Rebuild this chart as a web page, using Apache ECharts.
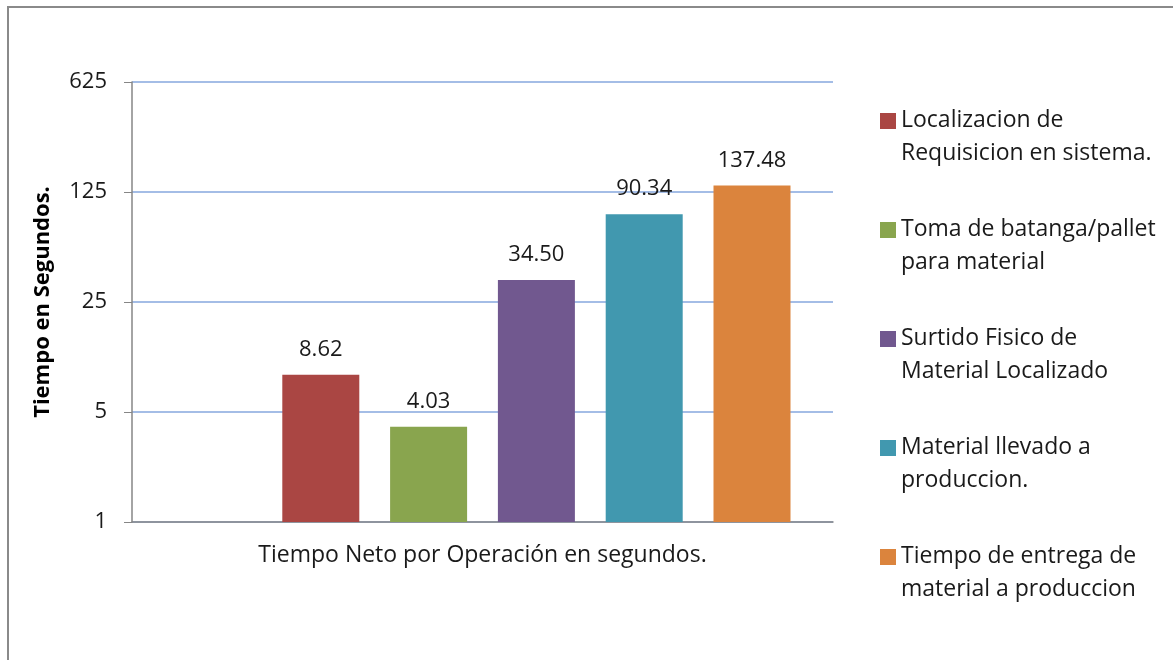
<!DOCTYPE html>
<html><head><meta charset="utf-8">
<script src="https://cdn.jsdelivr.net/npm/echarts@6/dist/echarts.min.js"></script>
<style>
html,body{margin:0;padding:0;background:#fff;}
#frame{position:absolute;left:7px;top:6px;width:1300px;height:800px;border-left:2px solid #8a8a8a;border-top:2px solid #8a8a8a;}
#c{position:absolute;left:0;top:0;width:1173px;height:660px;}
</style></head>
<body>
<div id="frame"></div>
<div id="c"></div>
<script>
const categories = ['Tiempo Neto por Operación en segundos.'];
const seriesNames = [
  'Localizacion de\nRequisicion en sistema.',
  'Toma de batanga/pallet\npara material',
  'Surtido Fisico de\nMaterial Localizado',
  'Material llevado a\nproduccion.',
  'Tiempo de entrega de\nmaterial a produccion'
];
const seriesValues = [8.62, 4.03, 34.50, 90.34, 137.48];
const seriesColors = ['#AA4643', '#89A54E', '#71588F', '#4198AF', '#DB843D'];
const yTicks = [1, 5, 25, 125, 625];

const FONT = '"Open Sans", sans-serif';
const chart = echarts.init(document.getElementById('c'));

const series = [{
  name: '__empty', type: 'bar', data: [null], barWidth: 77, barGap: '40%'
}];
seriesNames.forEach((n, i) => {
  series.push({
    name: n, type: 'bar', barWidth: 77, barGap: '40%',
    data: [seriesValues[i]],
    itemStyle: { color: seriesColors[i] },
    label: {
      show: true, position: 'top', distance: 14,
      formatter: p => p.value.toFixed(2),
      fontFamily: FONT, fontSize: 22, color: '#1a1a1a'
    }
  });
});

chart.setOption({
  animation: false,
  textStyle: { fontFamily: FONT },
  grid: { left: 132, right: 340, top: 82, bottom: 138 },
  legend: {
    data: seriesNames,
    orient: 'vertical', left: 880, top: 104, padding: 0,
    itemWidth: 16, itemHeight: 48, itemGap: 43,
    icon: 'path://M0,0H16V16H0Z M0,48',
    textStyle: { fontFamily: FONT, fontSize: 23, color: '#1a1a1a', lineHeight: 33 },
    selectedMode: false
  },
  xAxis: {
    type: 'category', data: categories,
    axisLine: { lineStyle: { color: '#868686', width: 1.5 } },
    axisTick: { show: false },
    axisLabel: { fontFamily: FONT, fontSize: 23, color: '#1a1a1a', margin: 22 }
  },
  yAxis: {
    type: 'log', logBase: 5, min: yTicks[0], max: yTicks[yTicks.length - 1],
    name: 'Tiempo en Segundos.', nameLocation: 'middle', nameGap: 78,
    nameTextStyle: { fontFamily: FONT, fontSize: 22, fontWeight: 'bold', color: '#000' },
    axisLine: { show: true, lineStyle: { color: '#868686', width: 1.5 } },
    axisTick: { show: true, length: 8, lineStyle: { color: '#868686' } },
    splitLine: { show: true, lineStyle: { color: '#a4bde6', width: 2 } },
    axisLabel: { fontFamily: FONT, fontSize: 22, color: '#1a1a1a', margin: 25,
      formatter: v => String(Math.round(v)) }
  },
  series: series
});
</script>
</body></html>
